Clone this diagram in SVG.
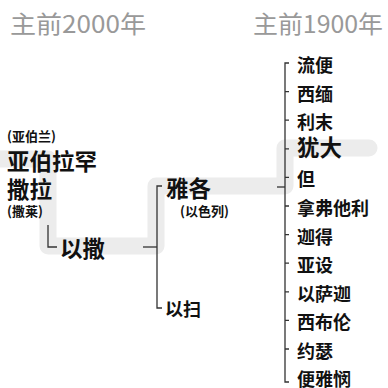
<svg xmlns="http://www.w3.org/2000/svg" width="388" height="388" viewBox="0 0 388 388">
<style>
text{font-family:"Noto Sans CJK SC","Noto Sans",sans-serif;fill:#111;font-weight:700}
.t{fill:#999;font-size:24px;font-weight:400}
.b{font-size:22.5px}
.m{font-size:18px}
.s{font-size:13px}
.ln{fill:none;stroke:#333;stroke-width:1.3}
</style>
<rect width="388" height="388" fill="#fff"/>
<path d="M-10,159 H48 V246 H156 V186 H285 V148 H369" fill="none" stroke="#ececec" stroke-width="17" stroke-linejoin="round" stroke-linecap="round"/>
<g id="titles">
<text class="t" x="10" y="33" textLength="136" lengthAdjust="spacingAndGlyphs">主前2000年</text>
<text class="t" x="253" y="33" textLength="130" lengthAdjust="spacingAndGlyphs">主前1900年</text>
</g>
<g id="connectors">
<path class="ln" d="M48,225 V247 H57"/>
<path class="ln" d="M143,247 H157"/>
<path class="ln" d="M162,186 H157 V308 H162"/>
<path class="ln" d="M277,187 H285"/>
<path class="ln" d="M289,63 H285 V382 H289"/>
<path class="ln" d="M285,91.6 H289 M285,120.2 H289 M285,148.8 H289 M285,177.4 H289 M285,206 H289 M285,234.6 H289 M285,263.2 H289 M285,291.8 H289 M285,320.4 H289 M285,349 H289"/>
</g>
<g id="abraham">
<text class="s" x="7" y="141">(亚伯兰)</text>
<text class="b" x="7" y="170">亚伯拉罕</text>
</g>
<g id="sarah">
<text class="b" x="7" y="198">撒拉</text>
<text class="s" x="7" y="216">(撒莱)</text>
</g>
<g id="isaac"><text class="b" x="60" y="257">以撒</text></g>
<g id="jacob">
<text class="b" x="166" y="197">雅各</text>
<text class="s" x="180" y="216">(以色列)</text>
</g>
<g id="esau"><text class="m" x="165" y="316">以扫</text></g>
<g id="sons">
<text class="m" x="297" y="72">流便</text>
<text class="m" x="297" y="100.6">西缅</text>
<text class="m" x="297" y="129.2">利末</text>
<text class="b" x="297" y="156">犹大</text>
<text class="m" x="297" y="186.4">但</text>
<text class="m" x="297" y="215">拿弗他利</text>
<text class="m" x="297" y="243.6">迦得</text>
<text class="m" x="297" y="272.2">亚设</text>
<text class="m" x="297" y="300.8">以萨迦</text>
<text class="m" x="297" y="329.4">西布伦</text>
<text class="m" x="297" y="358">约瑟</text>
<text class="m" x="297" y="386">便雅悯</text>
</g>
</svg>
